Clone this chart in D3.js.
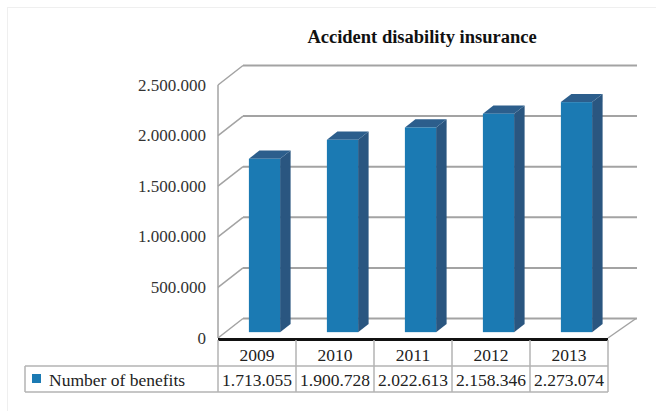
<!DOCTYPE html>
<html>
<head>
<meta charset="utf-8">
<script src="https://cdn.jsdelivr.net/npm/d3@7/dist/d3.min.js"></script>
<style>
  html, body { margin: 0; padding: 0; background: #fff; }
  svg { display: block; }
</style>
</head>
<body>
<svg id="chart" width="656" height="411"></svg>
<script>
const title = "Accident disability insurance";
const seriesName = "Number of benefits";
const years = ["2009", "2010", "2011", "2012", "2013"];
const values = [1713055, 1900728, 2022613, 2158346, 2273074];
const yTicks = [0, 500000, 1000000, 1500000, 2000000, 2500000];

const FONT = "'Liberation Serif', 'DejaVu Serif', serif";
const fmt = v => d3.format(",")(v).replace(/,/g, ".");

const svg = d3.select("#chart").style("font-family", FONT);

// geometry
const left = 218, right = 608, y0 = 338, yTop = 85;
const dx = 25, dy = -19.5;
const z0 = 0.3, z1 = 0.72;

const x = d3.scaleBand().domain(years).range([left, right]).padding(0);
const y = d3.scaleLinear().domain([0, 2500000]).range([y0, yTop]);

// outer frame
svg.append("rect").attr("x", 7.5).attr("y", 7.5).attr("width", 660).attr("height", 420)
  .attr("fill", "none").attr("stroke", "#efefef").attr("stroke-width", 1);

// title
svg.append("text").attr("x", 422).attr("y", 43).attr("text-anchor", "middle")
  .style("font-family", FONT)
  .attr("font-size", 18.5).attr("font-weight", "bold").attr("fill", "#111").text(title);

const gridColor = "#a3a3a3";
const g = svg.append("g");

yTicks.forEach(t => {
  const yf = y(t);
  g.append("line").attr("x1", left + dx).attr("x2", 637).attr("y1", yf + dy).attr("y2", yf + dy)
    .attr("stroke", gridColor).attr("stroke-width", 2);
  g.append("line").attr("x1", left).attr("x2", left + dx).attr("y1", yf).attr("y2", yf + dy)
    .attr("stroke", gridColor).attr("stroke-width", 1.5);
});
g.append("line").attr("x1", left).attr("x2", left).attr("y1", y(2500000)).attr("y2", y0)
  .attr("stroke", gridColor).attr("stroke-width", 1.5);
g.append("line").attr("x1", right).attr("x2", right + dx + 3).attr("y1", y0).attr("y2", y0 + dy)
  .attr("stroke", gridColor).attr("stroke-width", 1.5);

// y axis labels
svg.append("g").selectAll("text").data(yTicks).join("text")
  .style("font-family", FONT)
  .attr("x", 206).attr("y", d => y(d) + 5.5).attr("text-anchor", "end")
  .attr("font-size", 17).attr("fill", "#333").text(d => fmt(d));

// bars
const frontCol = "#1b7ab3", sideCol = "#2a5680", topCol = "#2c5e8c";
const bw = x.bandwidth() * 0.4;
const bars = svg.append("g").selectAll("g").data(years.map((yr, i) => ({ yr, v: values[i] }))).join("g");
bars.each(function (d) {
  const gg = d3.select(this);
  const cx = x(d.yr) + x.bandwidth() / 2;
  const fx0 = cx - bw / 2 + z0 * dx, fx1 = cx + bw / 2 + z0 * dx;
  const ft = y(d.v) + z0 * dy, fb = y(0) + z0 * dy;
  const ddx = (z1 - z0) * dx, ddy = (z1 - z0) * dy;
  gg.append("polygon").attr("fill", sideCol)
    .attr("points", [[fx1, ft], [fx1 + ddx, ft + ddy], [fx1 + ddx, fb + ddy], [fx1, fb]].join(" "));
  gg.append("polygon").attr("fill", topCol)
    .attr("points", [[fx0, ft], [fx0 + ddx, ft + ddy], [fx1 + ddx, ft + ddy], [fx1, ft]].join(" "));
  gg.append("rect").attr("fill", frontCol).attr("x", fx0).attr("y", ft)
    .attr("width", fx1 - fx0).attr("height", fb - ft);
});

// table
const tLine = "#b3b3b3";
const rowTop = 340, rowMid = 366, rowBot = 392, legLeft = 25;
const tg = svg.append("g");
tg.append("line").attr("x1", left).attr("x2", right).attr("y1", 339.5).attr("y2", 339.5)
  .attr("stroke", "#111").attr("stroke-width", 3);
tg.append("line").attr("x1", legLeft).attr("x2", right).attr("y1", rowMid).attr("y2", rowMid)
  .attr("stroke", tLine).attr("stroke-width", 1.5);
tg.append("line").attr("x1", legLeft).attr("x2", right).attr("y1", rowBot).attr("y2", rowBot)
  .attr("stroke", tLine).attr("stroke-width", 1.5);
tg.append("line").attr("x1", legLeft).attr("x2", legLeft).attr("y1", rowMid).attr("y2", rowBot)
  .attr("stroke", tLine).attr("stroke-width", 1.5);
const divs = years.map(yr => x(yr)).concat([right]);
tg.selectAll("line.div").data(divs).join("line").attr("class", "div")
  .attr("x1", d => d).attr("x2", d => d).attr("y1", rowTop).attr("y2", rowBot)
  .attr("stroke", tLine).attr("stroke-width", 1.5);

tg.selectAll("text.yr").data(years).join("text").attr("class", "yr")
  .style("font-family", FONT)
  .attr("x", d => x(d) + x.bandwidth() / 2).attr("y", 361).attr("text-anchor", "middle")
  .attr("font-size", 17.5).attr("fill", "#222").text(d => d);
tg.selectAll("text.val").data(values).join("text").attr("class", "val")
  .style("font-family", FONT)
  .attr("x", (d, i) => x(years[i]) + x.bandwidth() / 2).attr("y", 385.5).attr("text-anchor", "middle")
  .attr("font-size", 17.5).attr("fill", "#222").text(d => fmt(d));

tg.append("rect").attr("x", 32).attr("y", 374).attr("width", 9).attr("height", 9).attr("fill", frontCol);
tg.append("text").style("font-family", FONT)
  .attr("x", 49).attr("y", 385.5).attr("font-size", 17.5).attr("fill", "#222").text(seriesName);
</script>
</body>
</html>
